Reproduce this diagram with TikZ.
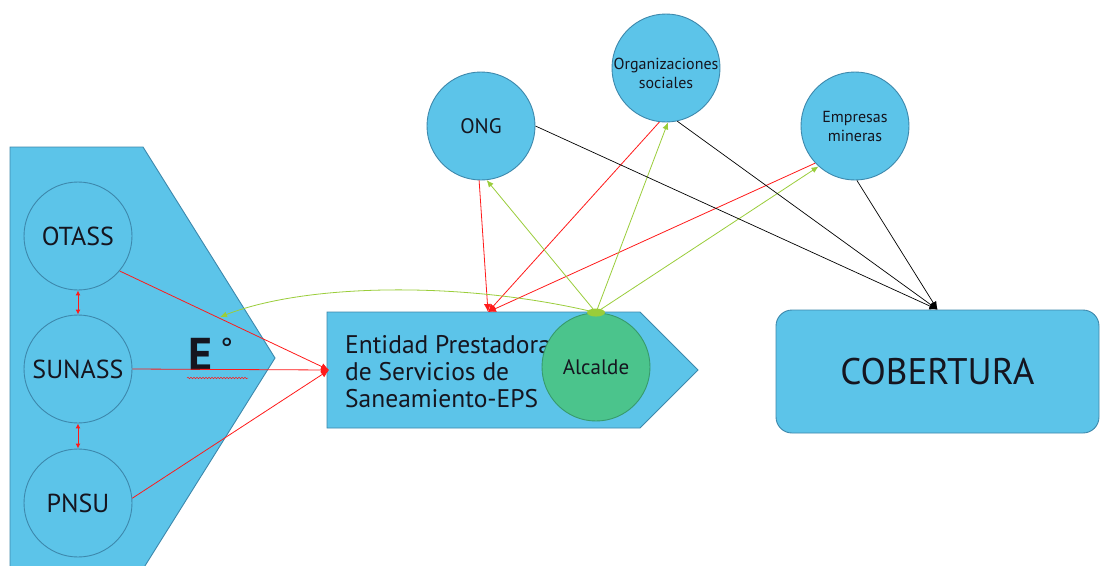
\documentclass[tikz,border=0pt]{standalone}
\usepackage{fontspec}
\setmainfont{PT Sans}
\usetikzlibrary{arrows.meta,decorations.pathmorphing}
\definecolor{fillblue}{HTML}{5CC4E9}
\definecolor{edgeblue}{HTML}{3D88AC}
\definecolor{alcgreen}{HTML}{4BC48C}
\definecolor{alcedge}{HTML}{379A6C}
\definecolor{lgreen}{HTML}{9ACD3A}
\definecolor{lred}{HTML}{FF1A1A}
\definecolor{txt}{HTML}{15151F}
\begin{document}
\begin{tikzpicture}[x=1pt,y=-1pt,
  bluecirc/.style={circle, fill=fillblue, draw=edgeblue, line width=0.9pt, minimum size=108pt, inner sep=0pt, text=txt, align=center},
  bigshape/.style={fill=fillblue, draw=edgeblue, line width=0.9pt},
  redarrow/.style={draw=lred, line width=0.8pt, -{Latex[length=8pt,width=7pt]}},
  redboth/.style={draw=lred, line width=1pt, {Latex[length=5pt,width=5pt]}-{Latex[length=5pt,width=5pt]}},
  greenarrow/.style={draw=lgreen, line width=0.8pt, -{Latex[length=7pt,width=6pt]}},
  blackarrow/.style={draw=black, line width=0.7pt, -{Latex[length=8pt,width=7pt]}},
]
\useasboundingbox (0,0) rectangle (1100,565);
\fill[white] (0,0) rectangle (1100,565);

% left pentagon
\path[bigshape] (10,147) -- (143,147) -- (275,358) -- (143,569) -- (10,569) -- cycle;
\node[bluecirc, font=\fontsize{26}{26}\selectfont] (OTASS) at (78,236) {OTASS};
\node[bluecirc, font=\fontsize{26}{26}\selectfont] (SUNASS) at (78,369) {SUNASS};
\node[bluecirc, font=\fontsize{26}{26}\selectfont] (PNSU) at (78,503) {PNSU};
\node[anchor=base west, inner sep=0pt, text=txt, font=\fontsize{46}{46}\selectfont\bfseries] (Etxt) at (188,370) {E\hspace{8pt}{\fontsize{30}{30}\selectfont\mdseries\raisebox{11pt}{°}}};
\draw[lred, line width=0.5pt, decorate, decoration={snake, amplitude=0.8pt, segment length=3pt}] (187,378) -- (248,378);
\coordinate (Etip) at (220,317);

% EPS
\path[bigshape] (327,312) -- (640,312) -- (698,370) -- (640,428) -- (327,428) -- cycle;
\coordinate (EPSwest) at (329,370);
\coordinate (EPStop) at (488,312);
\node[anchor=west, align=left, inner sep=0pt, text=txt, font=\fontsize{25.5}{27}\selectfont] (EPStext) at (345,372) {Entidad Prestadora\\de Servicios de\\Saneamiento-EPS};
\node[circle, fill=alcgreen, draw=alcedge, line width=0.9pt, minimum size=108pt, inner sep=0pt, text=txt, font=\fontsize{21}{21}\selectfont] (Alcalde) at (596,367) {Alcalde};

% COBERTURA
\node[fill=fillblue, draw=edgeblue, line width=0.9pt, rounded corners=16pt, minimum width=323pt, minimum height=123pt, inner sep=0pt, text=txt, font=\fontsize{37}{37}\selectfont] (COB) at (937.5,371.5) {COBERTURA};

% top circles
\node[bluecirc, font=\fontsize{21}{21}\selectfont] (ONG) at (481,126) {ONG};
\node[bluecirc, label={[yshift=-5pt, align=center, text=txt, font=\fontsize{16}{19}\selectfont]center:Organizaciones\\sociales}] (ORG) at (666,68) {};
\node[bluecirc, font=\fontsize{16}{19}\selectfont] (EMP) at (855,126) {Empresas\\mineras};

% left connectors
\draw[redboth] (OTASS.south) -- (SUNASS.north);
\draw[redboth] (SUNASS.south) -- (PNSU.north);
\draw[redarrow] (OTASS.-40) -- (EPSwest);
\draw[redarrow] (SUNASS.east) -- (EPSwest);
\draw[redarrow] (PNSU.5) -- (EPSwest);

% red to EPS
\draw[redarrow] (ONG.-92) -- (EPStop);
\draw[redarrow] (ORG.-97) -- (EPStop);
\draw[redarrow] (EMP.-137) -- (EPStop);

% green from Alcalde
\draw[greenarrow] (Alcalde.north) -- (ONG.-84);
\draw[greenarrow] (Alcalde.north) -- (ORG.-88);
\draw[greenarrow] (Alcalde.north) -- (EMP.-132);
\draw[greenarrow] (Alcalde.north) .. controls (470,282) and (310,282) .. (Etip);
\fill[lgreen] (Alcalde.north) ellipse (9pt and 4pt);

% black to COBERTURA
\draw[blackarrow] (ONG.east) -- (COB.north);
\draw[blackarrow] (ORG.-78) -- (COB.north);
\draw[blackarrow] (EMP.-88) -- (COB.north);
\end{tikzpicture}
\end{document}
